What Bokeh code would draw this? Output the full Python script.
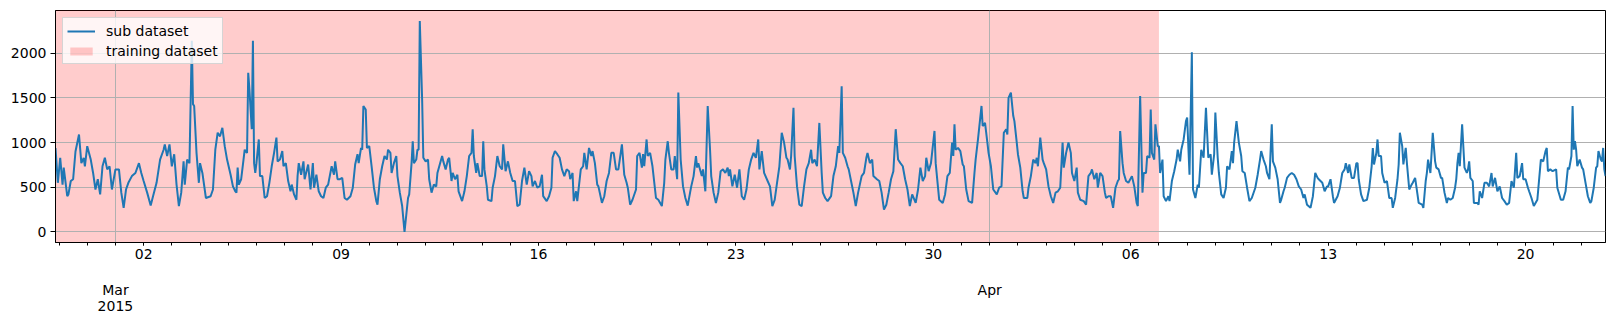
import pandas as pd
from bokeh.plotting import figure
from bokeh.models import (Range1d, FixedTicker, LinearAxis, Grid, Legend,
                          LegendItem, ColumnDataSource)
from bokeh.embed import file_html
from bokeh.resources import INLINE

# ---------------- data ----------------
series_start = "2015-02-26 21:00"
train_end = "2015-04-07 00:00"

# hours since series_start
hours = [
 0,2,4,6,7,10,11,13,15,17,20,22,24,25,27,30,32,34,36,38,40,42,44,46,48,51,54,56,58,60,62,65,68,71,73,75,78,81,83,86,89,92,93,95,97,99,101,103,105,107,109,110,112,114,116,117,118,120,122,123,125,128,132,134,136,138,140,142,144,146,149,
 151,153,154,155,156,158,160,161,163,164,165,167,168,169,170,171,173,174,176,178,180,182,184,186,188,189,191,193,194,196,198,200,201,203,205,206,207,209,211,212,215,217,219,220,222,224,226,228,230,232,235,237,238,240,242,244,246,248,251,253,255,257,258,260,261,262,264,265,267,269,271,273,274,276,278,280,282,283,285,286,288,290,291,293,295,
 297,300,301,303,304,305,307,308,309,310,312,313,315,317,318,320,322,324,325,327,329,330,332,334,335,337,338,340,342,343,346,348,350,352,354,355,356,358,359,361,363,364,365,367,368,371,372,374,376,378,380,381,383,385,387,389,391,393,395,397,399,401,403,405,406,408,410,412,414,415,418,420,422,423,425,427,429,431,433,435,437,438,440,441,443,444,
 447,449,450,452,454,456,457,459,461,462,465,467,469,471,473,475,477,479,482,484,486,487,489,491,494,495,497,499,500,501,503,504,506,508,511,513,516,518,519,521,522,524,526,527,529,530,532,534,536,538,540,541,543,545,546,547,550,551,553,555,557,558,560,562,564,566,568,570,572,573,574,576,578,580,582,584,586,588,590,592,594,596,
 598,599,601,603,606,608,610,612,614,616,618,620,622,623,625,626,628,629,631,633,635,637,639,641,643,644,646,648,650,652,653,655,657,660,662,664,666,667,669,670,672,674,675,677,679,681,683,686,688,690,691,693,695,696,699,701,703,705,707,709,711,713,715,717,719,721,723,725,727,729,732,734,736,738,740,741,743,745,
 748,749,751,752,755,757,759,761,763,764,765,766,768,770,772,773,775,777,780,782,783,785,788,789,791,793,794,796,798,801,803,805,807,809,810,811,813,815,816,818,819,821,823,824,827,828,830,832,834,835,836,838,840,841,843,845,847,849,851,853,855,857,858,860,862,864,865,867,869,870,872,875,877,879,881,882,884,886,887,889,891,893,894,
 896,898,900,902,904,905,906,908,909,911,913,916,918,920,921,923,925,926,928,929,931,932,933,935,936,938,939,940,942,943,945,947,948,950,952,954,955,957,958,960,962,963,965,967,968,970,972,973,975,977,979,981,983,984,986,987,989,990,992,994,996,997,999,1001,1002,1003,1005,1007,1009,1010,1012,1014,1016,1018,1021,1023,1025,1026,1028,1030,1031,1033,1035,1036,1038,1040,1042,1043,
 1045,1046,1048,1050,1052,1054,1056,1058,1060,1062,1063,1065,1068,1070,1072,1074,1075,1078,1080,1082,1083,1085,1087,1088,1091,1093,1095,1097,1098,1100,1101,1103,1105,1107,1108,1109,1111,1113,1116,1118,1120,1121,1122,1124,1125,1126,1128,1129,1131,1133,1135,1137,1138,1140,1142,1143,1144,1146,1147,1149,1150,1152,1154,1155,1157,1159,1160,1163,1164,1166,1167,1168,1170,1171,1172,1174,1175,1177,1179,1180,1182,1184,1185,1187,1189,1191,1192,
 1193,1194,1195,1197,1199,1201,1202,1203,1204,1206,1207,1210,1211,1212,1214,1216,1218,1220,1222,1223,1225,1227,1229,1231,1233,1235,1237,1239,1241,1243,1244,1246,1248,1249,1251,1253,1254,1256,1258,1261,1262,1264,1266,1268,1269,1270,1272,1274,1277,1278,1281,1283,1285,1287,1288,1290,1291,1292,1293,1294,1295,1297,1299,1300,1302,1304,1306,1307,1309,1311,1312,1313,1315,1316,1317,1318,1319,
]

counts = [
 940,550,830,530,720,400,420,570,590,900,1090,770,830,735,960,810,660,475,590,420,735,830,700,735,475,700,700,440,270,475,550,625,660,770,660,570,440,295,400,550,810,920,980,850,980,735,870,530,290,440,790,530,810,770,2140,1430,1410,885,550,770,660,380,400,475,920,1110,1070,1165,960,810,640,
 510,455,440,720,530,590,810,920,885,1780,1600,1150,2140,770,660,770,1035,625,625,380,400,550,735,885,1055,790,810,905,735,770,570,455,530,420,360,625,770,640,790,590,755,475,770,495,640,455,400,380,495,530,735,640,790,590,590,605,380,360,400,495,755,870,770,940,920,1410,1370,940,960,735,495,345,305,590,735,850,810,920,885,660,770,850,625,440,290,
 0,380,420,770,1015,770,810,920,920,2360,1480,830,790,810,590,440,530,510,660,755,850,790,700,810,830,570,660,590,640,455,345,455,625,850,885,1150,850,660,770,625,625,1015,700,510,360,345,495,625,850,735,700,980,680,790,660,570,570,290,305,570,720,530,680,625,510,570,495,510,640,400,345,400,495,830,905,870,830,700,625,700,680,590,660,345,455,345,
 700,735,885,700,940,850,905,770,530,510,325,400,570,660,885,885,700,700,980,640,550,495,305,360,475,850,885,720,870,735,1035,850,885,735,380,360,290,550,810,1015,885,700,700,850,590,1560,810,510,380,295,440,510,625,850,720,770,625,700,455,1410,920,625,440,325,440,680,700,660,720,625,700,510,640,495,700,400,360,475,700,810,885,830,
 1035,700,905,660,570,510,290,360,550,735,1110,1000,830,810,700,850,1390,850,510,305,290,510,700,770,920,770,810,735,1220,660,440,380,345,400,625,735,960,885,1630,885,830,735,700,570,440,290,440,625,660,830,885,770,810,625,590,570,440,250,305,440,590,680,1150,810,770,735,590,475,290,420,325,475,720,570,625,830,680,770,
 1130,770,495,360,325,420,625,660,1000,850,1205,920,940,905,755,735,475,345,325,660,810,1035,1410,1185,1220,1000,885,735,475,420,495,510,1110,1150,1090,1500,1560,1300,1240,1000,870,720,455,380,380,495,625,810,770,830,735,1055,810,770,700,510,400,325,440,455,495,1000,720,885,1000,885,660,570,720,440,360,345,305,625,660,700,590,660,495,660,625,440,380,
 400,400,270,495,570,590,1130,770,660,570,550,625,510,325,290,1520,440,660,660,850,830,1370,885,810,1205,960,960,660,810,400,345,400,345,570,680,810,920,790,920,1035,1240,1280,640,2010,475,380,530,495,920,830,1390,830,870,640,870,1335,830,660,420,380,495,735,700,905,770,1000,1240,1000,850,680,660,495,345,380,495,640,810,905,810,735,660,590,1205,790,720,590,325,360,
 455,495,605,640,660,640,590,510,475,380,420,305,270,400,660,605,590,550,455,510,510,590,400,325,400,495,660,700,770,660,755,605,605,770,770,590,420,345,360,495,735,940,755,885,1035,850,850,660,550,570,380,380,270,380,590,755,1110,960,755,940,770,475,530,550,605,420,325,305,270,570,660,810,660,885,1110,790,720,700,605,605,440,325,380,360,380,495,590,
 770,885,735,1205,720,660,700,790,605,570,325,325,305,455,380,550,550,510,660,510,605,455,510,380,345,305,325,570,495,885,605,625,770,590,590,495,455,380,290,360,510,810,790,905,940,680,700,680,700,495,360,360,455,720,700,850,1410,920,1015,920,735,810,720,700,550,400,325,345,495,720,735,905,810,790,940,700,625,
]

y_ticks = [0, 500, 1000, 1500, 2000]
week_days = ["2015-03-02", "2015-03-09", "2015-03-16", "2015-03-23",
             "2015-03-30", "2015-04-06", "2015-04-13", "2015-04-20"]
week_labels = ["02", "09", "16", "23", "30", "06", "13", "20"]
month_days = ["2015-03-01", "2015-04-01"]
month_labels = ["Mar", "Apr"]
year_labels = ["2015", ""]
first_day, last_day = "2015-02-27", "2015-04-22"

# ---------------- helpers ----------------
def ms(t):
    return int(pd.Timestamp(t).value // 10**6)

t0 = pd.Timestamp(series_start)
xs = [t0 + pd.Timedelta(hours=h) for h in hours]
src = ColumnDataSource(dict(x=xs, y=counts))

x_lo, x_hi = ms(xs[0]), ms(xs[-1])
y_lo, y_hi = -118, 2478

FONT = "DejaVu Sans"
FS = "14px"

p = figure(width=1614, height=323, x_axis_type=None, y_axis_type=None,
           x_range=Range1d(x_lo, x_hi), y_range=Range1d(y_lo, y_hi),
           toolbar_location=None, output_backend="svg",
           min_border_left=55, min_border_right=9, min_border_top=10,
           min_border_bottom=81)
p.background_fill_color = "white"
p.border_fill_color = "white"
p.outline_line_color = "black"
p.outline_line_width = 1

# training span
span_r = p.quad(left=[ms(series_start)], right=[ms(train_end)],
                bottom=[y_lo - 1000], top=[y_hi + 1000],
                fill_color="red", fill_alpha=0.2, line_color=None,
                level="image")

# grids
p.add_layout(Grid(dimension=1, ticker=FixedTicker(ticks=y_ticks),
                  grid_line_color="#b0b0b0", grid_line_width=1))
p.add_layout(Grid(dimension=0, ticker=FixedTicker(ticks=[ms(d) for d in month_days]),
                  grid_line_color="#b0b0b0", grid_line_width=1))

line_r = p.line("x", "y", source=src, line_color="#1f77b4", line_width=2)

# y axis
yax = LinearAxis(ticker=FixedTicker(ticks=y_ticks),
                 major_tick_out=5, major_tick_in=0, minor_tick_out=0,
                 major_label_standoff=4, axis_line_color="black",
                 major_label_text_font=FONT, major_label_text_font_size=FS,
                 major_label_text_color="black")
p.add_layout(yax, "left")

# x axes
day_ticks = [ms(d) for d in pd.date_range(first_day, last_day, freq="D")]
week_ms = [ms(d) for d in week_days]
x1 = LinearAxis(ticker=FixedTicker(ticks=week_ms, minor_ticks=day_ticks),
                major_label_overrides=dict(zip(week_ms, week_labels)),
                major_tick_out=3, major_tick_in=0, minor_tick_out=3, minor_tick_in=0,
                major_label_standoff=3, axis_line_color="black",
                major_label_text_font=FONT, major_label_text_font_size=FS,
                major_label_text_color="black")
p.add_layout(x1, "below")

month_ms = [ms(d) for d in month_days]
x2 = LinearAxis(ticker=FixedTicker(ticks=month_ms),
                major_label_overrides=dict(zip(month_ms, month_labels)),
                major_tick_out=0, major_tick_in=0, major_tick_line_color=None,
                minor_tick_line_color=None, axis_line_color=None,
                major_label_standoff=20,
                major_label_text_font=FONT, major_label_text_font_size=FS,
                major_label_text_color="black")
p.add_layout(x2, "below")
x3 = LinearAxis(ticker=FixedTicker(ticks=month_ms),
                major_label_overrides=dict(zip(month_ms, year_labels)),
                major_tick_out=0, major_tick_in=0, major_tick_line_color=None,
                minor_tick_line_color=None, axis_line_color=None,
                major_label_standoff=0,
                major_label_text_font=FONT, major_label_text_font_size=FS,
                major_label_text_color="black")
p.add_layout(x3, "below")

legend = Legend(items=[LegendItem(label="sub dataset", renderers=[line_r]),
                       LegendItem(label="training dataset", renderers=[span_r])],
                location="top_left", margin=7, padding=4, spacing=3,
                glyph_width=28, glyph_height=10, label_standoff=11,
                label_height=17, label_text_font=FONT, label_text_font_size=FS,
                label_text_color="black",
                background_fill_color="white", background_fill_alpha=0.8,
                border_line_color="#cccccc", border_line_alpha=0.8)
p.add_layout(legend)

open("out.html", "w").write(file_html(p, INLINE))
